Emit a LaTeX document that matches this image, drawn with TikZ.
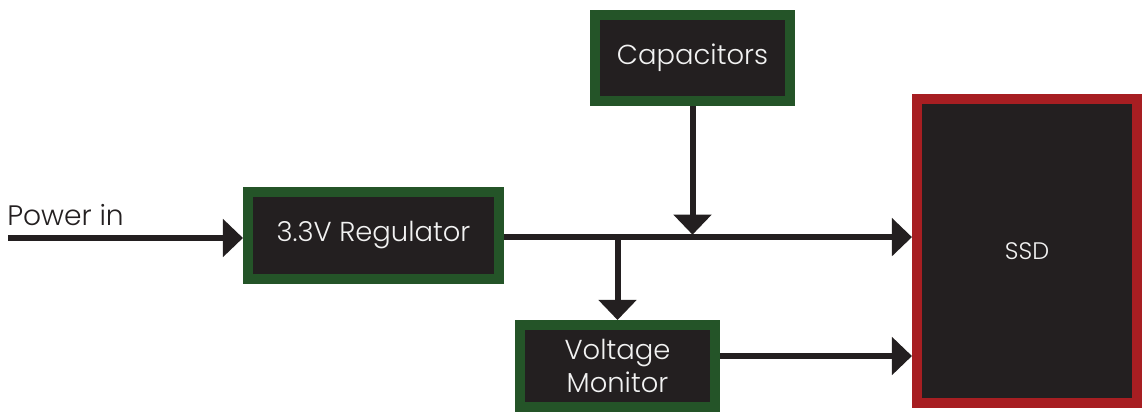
\documentclass[tikz,border=0pt]{standalone}
\usepackage{fontspec}
\setmainfont{Poppins}[UprightFont={* Light}]
\usetikzlibrary{arrows.meta}
\definecolor{boxgreen}{HTML}{245428}
\definecolor{ssdred}{HTML}{A71E22}
\definecolor{boxdark}{HTML}{231F20}
\begin{document}
\begin{tikzpicture}[x=0.025cm, y=-0.025cm,
        block/.style={draw=boxgreen, fill=boxdark, line width=0.25cm, outer sep=0.125cm, inner sep=0pt, text=white!95!black, font=\fontsize{19.5}{23}\selectfont, align=center},
        ssdbox/.style={block, draw=ssdred, font=\fontsize{17}{20}\selectfont},
        wire/.style={draw=boxdark, line width=0.15cm, -{Triangle[length=0.5cm, width=0.925cm]}}]
        \useasboundingbox (0,0) rectangle (1142,413);
        \node[block, minimum width=4.875cm, minimum height=2.15cm] (cap) at (692.5,58) {Capacitors};
        \node[block, minimum width=6.275cm, minimum height=2.175cm] (reg) at (373.5,235.5) {3.3V Regulator};
        \node[block, minimum width=4.875cm, minimum height=2.05cm] (mon) at (617.5,366) {Voltage\\Monitor};
        \node[ssdbox, minimum width=5.5cm, minimum height=7.6cm] (ssd) at (1027,251) {SSD};
        \node[anchor=west, inner sep=0pt, text=boxdark, font=\fontsize{20}{23}\selectfont] (label) at (7,215) {Power in};
        \coordinate (pin) at (8,238);
        \coordinate (bus) at ([yshift=-0.04cm]reg.east);
        \coordinate (tap) at ([yshift=0.25cm]mon.east);

        \draw[wire] (pin) -- (pin -| reg.west);
        \draw[wire] (bus) -- (bus -| ssd.west);
        \draw[wire, shorten >=0.06cm] (cap.south) -- (cap.south |- bus);
        \draw[wire] (mon.north |- bus) -- (mon.north);
        \draw[wire] (tap) -- (tap -| ssd.west);
    \end{tikzpicture}
\end{document}
